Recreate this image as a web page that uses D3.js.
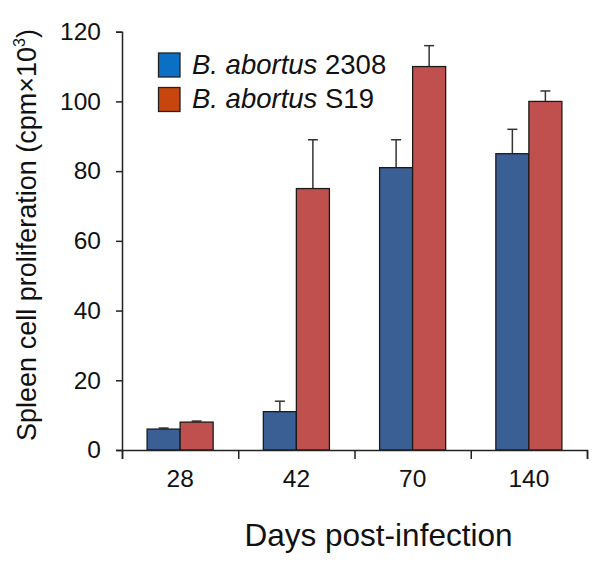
<!DOCTYPE html>
<html><head><meta charset="utf-8">
<script src="https://cdn.jsdelivr.net/npm/d3@7"></script>
<style>
body{margin:0;background:#fff;}
svg{display:block;font-family:"Liberation Sans",Arial,sans-serif;}
</style></head>
<body><svg id="c" width="600" height="565"></svg>
<script>
const days = ["28","42","70","140"];
const series = ["B. abortus 2308","B. abortus S19"];
const strain2308 = [6, 11, 81, 85];
const strain2308Err = [0.3, 3, 8, 7];
const strainS19 = [8, 75, 110, 100];
const strainS19Err = [0.3, 14, 6, 3];
const yTicks = [0,20,40,60,80,100,120];

const barColors = ["#3a5f95","#c0504d"];
const legendColors = ["#0b6fc3","#c8460e"];

const svg = d3.select("#c");
const mLeft = 122, mRight = 587, mTop = 31.7, mBottom = 450;

const x0 = d3.scaleBand().domain(days).range([mLeft,mRight]).paddingInner(0).paddingOuter(0);
const x1 = d3.scaleBand().domain(series).range([0,x0.bandwidth()]).paddingInner(0).paddingOuter(0.76);
const y = d3.scaleLinear().domain([0,120]).range([mBottom,mTop]);
const xb = d3.scaleLinear().domain([0,days.length]).range([mLeft,mRight]);

const data = days.map((d,i)=>({day:d, vals:[
  {s:series[0], v:strain2308[i], e:strain2308Err[i], c:barColors[0]},
  {s:series[1], v:strainS19[i], e:strainS19Err[i], c:barColors[1]}
]}));

const g = svg.append("g");
const groups = g.selectAll("g.grp").data(data).join("g")
  .attr("transform", d=>`translate(${x0(d.day)},0)`);

// error bars (upper only)
groups.selectAll("g.err").data(d=>d.vals).join("g").each(function(d){
  const cx = x1(d.s) + x1.bandwidth()/2;
  const sel = d3.select(this);
  sel.append("line").attr("x1",cx).attr("x2",cx).attr("y1",y(d.v)).attr("y2",y(d.v+d.e))
    .attr("stroke","#333").attr("stroke-width",1.5);
  sel.append("line").attr("x1",cx-5).attr("x2",cx+5).attr("y1",y(d.v+d.e)).attr("y2",y(d.v+d.e))
    .attr("stroke","#333").attr("stroke-width",1.5);
});

groups.selectAll("rect").data(d=>d.vals).join("rect")
  .attr("x", d=>x1(d.s)).attr("width", x1.bandwidth())
  .attr("y", d=>y(d.v)).attr("height", d=>y(0)-y(d.v))
  .attr("fill", d=>d.c).attr("stroke","#1a1a1a").attr("stroke-width",1.3);

// y axis
const ya = svg.append("g").attr("transform",`translate(${mLeft},0)`)
  .call(d3.axisLeft(y).tickValues(yTicks).tickSize(6).tickPadding(15));
ya.selectAll("text").attr("font-size",24.5).attr("fill","#111").attr("font-family","Liberation Sans, Arial, sans-serif");

// x axis tick marks at boundaries
const xa = svg.append("g").attr("transform",`translate(0,${mBottom})`)
  .call(d3.axisBottom(xb).ticks(days.length).tickSize(9).tickFormat(""));
// x labels
const xl = svg.append("g").attr("transform",`translate(0,${mBottom})`)
  .call(d3.axisBottom(x0).tickSize(0).tickPadding(20));
xl.select(".domain").remove();
xl.selectAll("text").attr("font-size",24.5).attr("fill","#111").attr("font-family","Liberation Sans, Arial, sans-serif");

svg.selectAll(".domain").attr("stroke","#222").attr("stroke-width",1.5);
svg.selectAll(".tick line").attr("stroke","#222").attr("stroke-width",1.5);

// axis titles
svg.append("text").attr("x",(mLeft+mRight)/2+24).attr("y",546).attr("text-anchor","middle")
  .attr("font-size",31.5).attr("fill","#111").text("Days post-infection");

const yt = svg.append("text").attr("transform","translate(36,235) rotate(-90)")
  .attr("text-anchor","middle").attr("font-size",27).attr("fill","#111");
yt.append("tspan").text("Spleen cell proliferation (cpm×10");
yt.append("tspan").attr("font-size",16).attr("dy",-11).text("3");
yt.append("tspan").attr("dy",11).text(")");

// legend
const lg = svg.append("g");
series.forEach((s,i)=>{
  const yy = 53 + i*34.5;
  lg.append("rect").attr("x",158.5).attr("y",yy).attr("width",21.5).attr("height",24)
    .attr("fill",legendColors[i]).attr("stroke","#222").attr("stroke-width",1.3);
  const t = lg.append("text").attr("x",192).attr("y",yy+20.5).attr("font-size",27.5).attr("fill","#111");
  const parts = s.split(" ");
  t.append("tspan").attr("font-style","italic").text(parts[0]+" "+parts[1]+" ");
  t.append("tspan").text(parts[2]);
});
</script></body></html>
